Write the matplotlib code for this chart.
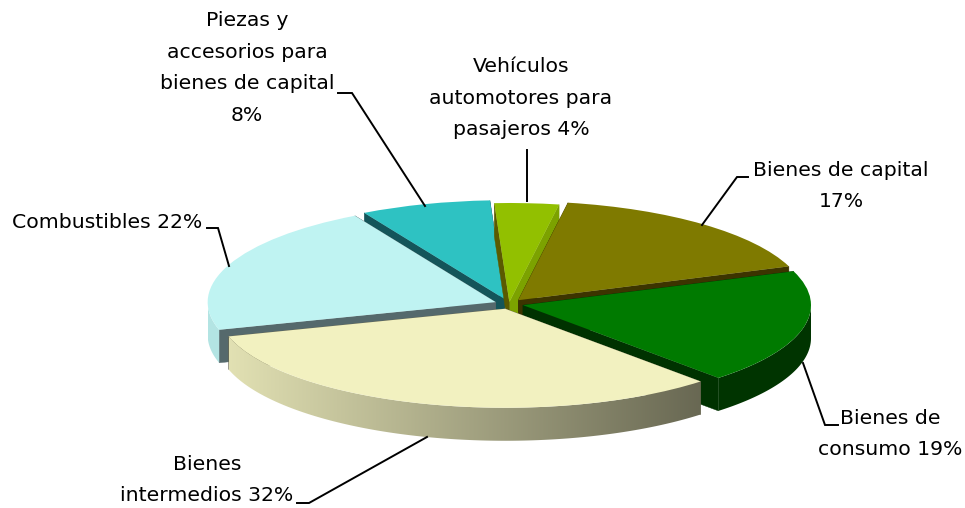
import numpy as np
from matplotlib import pyplot as plt
from matplotlib.patches import Polygon

# Data, clockwise from the top
labels = ['Vehículos\nautomotores para\npasajeros 4%', 'Bienes de capital\n17%', 'Bienes de\nconsumo 19%',
          'Bienes\nintermedios 32%', 'Combustibles 22%', 'Piezas y\naccesorios para\nbienes de capital\n8%']
values = [3.6, 16.7, 18.7, 32.4, 21.4, 7.3]
explode = [0.02, 0.05, 0.05, 0.05, 0.05, 0.05]
top_colors = ['#92c000', '#7f7a00', '#007a00', '#f2f1c0', '#bff3f2', '#2ec2c2']
wall_colors = [('#7ca200', '#5a5a00'), ('#3c3400', '#3c3400'), ('#003200', '#003200'),
               ('#6a6850', '#6a6850'), ('#55696c', '#55696c'), ('#14555a', '#14555a')]
paint_order = [5, 0, 1, 4, 2, 3]

# Placement of the pie in the picture (pixels)
W, H = 965, 508
cx, cy, rx, ry = 509, 304, 288, 99
depth = 33 / ry

fig = plt.figure(figsize=(W / 100, H / 100), dpi=100)
ax = fig.add_axes([0, 0, 1, 1])
wedges, _ = ax.pie(values, explode=explode, colors=top_colors, startangle=93, counterclock=False,
                   radius=1, wedgeprops={'linewidth': 0})
ax.axis('off')

rgb = lambda c: np.array(plt.matplotlib.colors.to_rgb(c))

for layer, i in enumerate(paint_order):
    w = wedges[i]
    z = 10 + layer * 3
    w.set_zorder(z + 2)
    x0, y0 = w.center
    # radial walls
    for theta, wall in zip((w.theta1, w.theta2), wall_colors[i]):
        xe = x0 + np.cos(np.radians(theta))
        ye = y0 + np.sin(np.radians(theta))
        ax.fill([x0, xe, xe, x0], [y0, ye, ye - depth, y0 - depth], color=wall, lw=0.3, zorder=z)
    # outer rim, shaded from left to right
    a = np.radians(np.linspace(w.theta1, w.theta2, 300))
    a = a[np.sin(a) <= 0]
    if len(a) < 2:
        continue
    xs = x0 + np.cos(a)
    ys = y0 + np.sin(a)
    outline = np.column_stack([np.r_[xs, xs[::-1]], np.r_[ys, ys[::-1] - depth]])
    xgrid = np.linspace(xs.min(), xs.max(), 256)
    shade = np.interp(xgrid, [-1, 0.67], [0.94, 0.43])
    strip = rgb(top_colors[i])[None, None, :] * shade[None, :, None]
    im = ax.imshow(strip, extent=[xs.min(), xs.max(), ys.min() - depth, ys.max()], aspect='auto',
                   interpolation='bilinear', zorder=z + 1)
    im.set_clip_path(Polygon(outline, transform=ax.transData))

ax.set_aspect('auto')
ax.set_xlim(-cx / rx, (W - cx) / rx)
ax.set_ylim((cy - H) / ry, cy / ry)

# Labels and leader lines, in picture pixels
over = fig.add_axes([0, 0, 1, 1], zorder=5)
over.set_xlim(0, W)
over.set_ylim(H, 0)
over.axis('off')
plt.rcParams['font.family'] = ['DejaVu Sans']

text_spots = [(521, 98), (841, 186), (890, 434), (207, 480), (107, 222), (247, 68)]
leaders = [([527, 527], [150, 201]),
           ([748, 737, 702], [177, 177, 225]),
           ([838, 825, 803], [425, 425, 363]),
           ([297, 309, 427], [503, 503, 437]),
           ([207, 218, 229], [228, 228, 266]),
           ([338, 352, 425], [93, 93, 206])]

for lab, (tx, ty), (lx, ly) in zip(labels, text_spots, leaders):
    over.text(tx, ty, lab, ha='center', va='center', multialignment='center', fontsize=14.7,
              linespacing=1.85, color='black')
    over.plot(lx, ly, color='black', lw=1.4, solid_joinstyle='miter')

plt.savefig('out.png', dpi=100)
